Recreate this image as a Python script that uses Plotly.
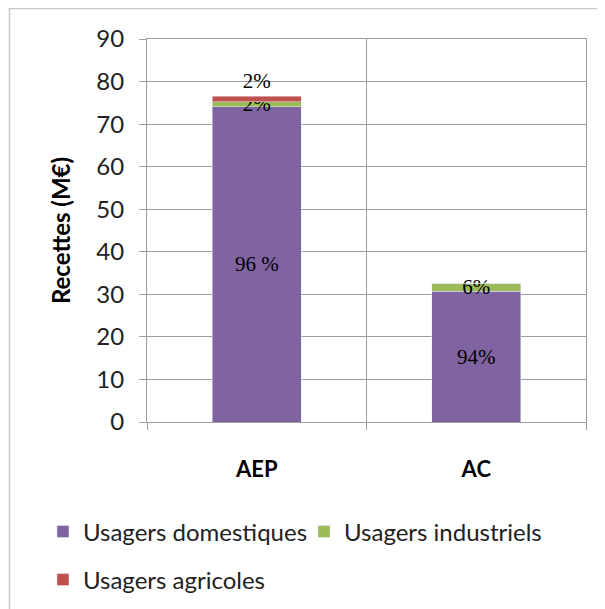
import plotly.graph_objects as go

categories = ["AEP", "AC"]
domestiques = [74.1, 30.7]
industriels = [1.2, 1.95]
agricoles = [1.2, 0.0]
dom_labels = ["96 %", "94%"]
ind_labels = ["2%", "6%"]
agr_labels = ["2%", ""]
series_names = ["Usagers domestiques", "Usagers industriels", "Usagers agricoles"]
y_ticks = [0, 10, 20, 30, 40, 50, 60, 70, 80, 90]

PURPLE = "#8064A2"
GREEN = "#9BBB59"
RED = "#C0504D"
GRID = "#9e9e9e"
SANS = "Lato"
SERIF = "Liberation Serif"

lab_font = dict(family=SERIF, size=21, color="black")

fig = go.Figure()
fig.add_bar(x=categories, y=domestiques, name=series_names[0], marker_color=PURPLE,
            text=dom_labels, textposition="inside", insidetextanchor="middle",
            textfont=lab_font, constraintext="none", textangle=0, legend="legend")
fig.add_bar(x=categories, y=industriels, name=series_names[1], marker_color=GREEN,
            text=ind_labels, textposition="inside", insidetextanchor="middle",
            textfont=lab_font, constraintext="none", textangle=0, legend="legend2")
fig.add_bar(x=categories, y=agricoles, name=series_names[2], marker_color=RED,
            text=agr_labels, textposition="outside",
            textfont=lab_font, constraintext="none", textangle=0, legend="legend3",
            cliponaxis=False)

leg_common = dict(orientation="h", font=dict(family=SANS, size=24, color="#222"),
                  bgcolor="rgba(0,0,0,0)", xanchor="left", yanchor="middle",
                  itemclick=False)

W, H = 597, 601
L, R, T, B = 139, 19, 31, 187
PW, PH = W - L - R, H - T - B

fig.update_layout(
    width=W, height=H,
    margin=dict(l=L, r=R, t=T, b=B, autoexpand=False),
    paper_bgcolor="white", plot_bgcolor="white",
    barmode="stack", bargap=0.595,
    showlegend=True,
    legend=dict(x=-0.237, y=-0.287, **leg_common),
    legend2=dict(x=0.3576, y=-0.287, **leg_common),
    legend3=dict(x=-0.237, y=-0.4125, **leg_common),
)
fig.update_yaxes(
    range=[0, 90], tickvals=y_ticks, showgrid=True, gridcolor=GRID, gridwidth=1,
    showline=True, linecolor=GRID, linewidth=1, mirror=True,
    ticks="outside", ticklen=7, tickcolor=GRID,
    tickfont=dict(family=SANS, size=24, color="#222"),
    ticklabelstandoff=10,
    title=dict(text="<b>Recettes (M€)</b>", font=dict(family=SANS, size=24, color="black"), standoff=18),
    zeroline=False,
)
fig.update_xaxes(
    showgrid=True, gridcolor=GRID, tickson="boundaries",
    showline=True, linecolor=GRID, linewidth=1, mirror=True,
    ticks="outside", ticklen=7, tickcolor=GRID,
    tickfont=dict(family=SANS, size=22, color="black"),
    ticktext=["<b>AEP</b>", "<b>AC</b>"], tickvals=categories,
    ticklabelstandoff=28,
)
# outer chart-area border (left and top edges visible in reference)
fig.add_shape(type="rect", xref="paper", yref="paper",
              x0=(1.5 - L) / PW, x1=1.2, y0=-1.0, y1=(PH + T - 0.5) / PH,
              line=dict(color="#c8c8c8", width=1.5), fillcolor="rgba(0,0,0,0)", layer="below")

fig.write_html("out.html")
